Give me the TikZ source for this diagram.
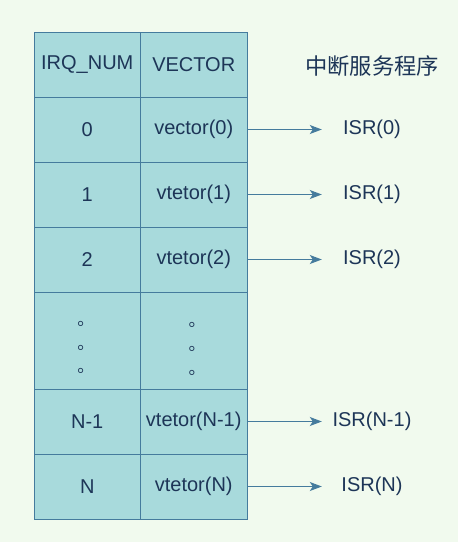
\documentclass[tikz,border=0pt]{standalone}
\usepackage{fontspec}
\setmainfont{Liberation Sans}
\newfontfamily\cjk{Noto Sans CJK SC}
\usetikzlibrary{arrows.meta}
\definecolor{bgc}{HTML}{F1FAEE}
\definecolor{fillc}{HTML}{A8DADC}
\definecolor{linec}{HTML}{457B9D}
\definecolor{txtc}{HTML}{1D3557}
\begin{document}
\begin{tikzpicture}[x=1pt,y=-1pt,
  cell/.style={draw=linec, fill=fillc, line width=1pt, minimum width=106.5pt, inner sep=0pt, text=txtc, font=\fontsize{20}{23}\selectfont},
  lbl/.style={text=txtc, inner sep=0pt, minimum width=100pt, font=\fontsize{20}{23}\selectfont},
  ttl/.style={text=txtc, inner sep=0pt, font=\cjk\fontsize{22.3}{24}\selectfont},
  arr/.style={draw=linec, line width=1pt, -{Stealth[length=12pt,width=9pt,inset=3pt]}},
  dotc/.style={text=txtc, inner sep=0pt, anchor=base west, font=\cjk\fontsize{17}{18}\selectfont}]
\fill[bgc] (0,0) rectangle (458,542);
\useasboundingbox (0,0) rectangle (458,542);
% header
\node[cell, minimum height=65pt] (hl) at (87.25,64.5) {IRQ\_NUM};
\node[cell, minimum height=65pt] (hr) at (193.75,64.5) {VECTOR};
\node[ttl] (title) at (372,66.5) {中断服务程序};
% rows
\node[cell, minimum height=65pt] (n0) at (87.25,129.5) {0};
\node[cell, minimum height=65pt] (v0) at (193.75,129.5) {vector(0)};
\node[cell, minimum height=65pt] (n1) at (87.25,194.5) {1};
\node[cell, minimum height=65pt] (v1) at (193.75,194.5) {vtetor(1)};
\node[cell, minimum height=65pt] (n2) at (87.25,259.5) {2};
\node[cell, minimum height=65pt] (v2) at (193.75,259.5) {vtetor(2)};
\node[cell, minimum height=97pt] (nd) at (87.25,340.5) {};
\node[cell, minimum height=97pt] (vd) at (193.75,340.5) {};
\node[cell, minimum height=65pt] (nn1) at (87.25,421.5) {N-1};
\node[cell, minimum height=65pt] (vn1) at (193.75,421.5) {vtetor(N-1)};
\node[cell, minimum height=65pt] (nn) at (87.25,486.5) {N};
\node[cell, minimum height=65pt] (vn) at (193.75,486.5) {vtetor(N)};
% dots
\node[dotc] (dl1) at (77.3,325.2) {。};
\node[dotc] (dl2) at (77.3,349.2) {。};
\node[dotc] (dl3) at (77.3,372.2) {。};
\node[dotc] (dr1) at (188.3,326.0) {。};
\node[dotc] (dr2) at (188.3,350.0) {。};
\node[dotc] (dr3) at (188.3,374.0) {。};
% ISR labels
\node[lbl] (i0) at (372,129.5) {ISR(0)};
\node[lbl] (i1) at (372,194.5) {ISR(1)};
\node[lbl] (i2) at (372,259.5) {ISR(2)};
\node[lbl] (in1) at (372,421.5) {ISR(N-1)};
\node[lbl] (in) at (372,486.5) {ISR(N)};
% arrows
\draw[arr] (v0.east) -- (i0.west);
\draw[arr] (v1.east) -- (i1.west);
\draw[arr] (v2.east) -- (i2.west);
\draw[arr] (vn1.east) -- (in1.west);
\draw[arr] (vn.east) -- (in.west);
\end{tikzpicture}
\end{document}
